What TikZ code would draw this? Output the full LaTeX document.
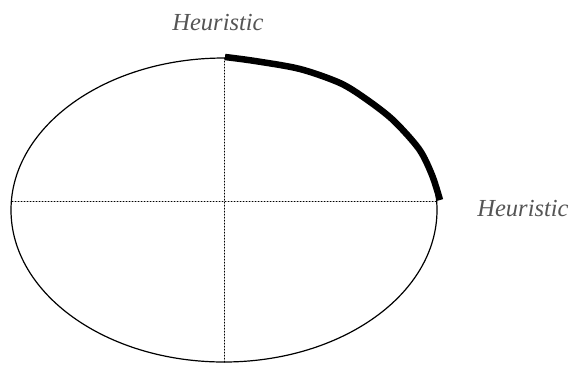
\documentclass[tikz,border=0pt]{standalone}
\usepackage{fontspec}
\setmainfont{Liberation Serif}
\usepackage{xcolor}
\usetikzlibrary{positioning,calc}
\definecolor{labelgray}{HTML}{555555}

\begin{document}
\begin{tikzpicture}[x=1pt,y=-1pt,
  axisline/.style={dotted,line width=1pt,line cap=round},
  heur/.style={font=\fontsize{24.5}{28}\selectfont\itshape,text=labelgray,inner sep=0pt}]
\useasboundingbox (0,0) rectangle (572,365);
\coordinate (c) at (224,210);
\draw[line width=1.2pt] (c) ellipse [x radius=213,y radius=152];
\draw[axisline] (224,58) -- (224,362);
\draw[axisline] (12,201) -- (437,201);
% thick stretch of the outline
\draw[line width=6.5pt,line join=round] plot[smooth,tension=0.5] coordinates
  {(225,57) (255,61) (300,69) (340,83) (366,99) (393,120) (419,149) (432,175) (440,200)};
\node[heur] (top) at (218,23) {Heuristic};
\node[heur] (side) at (523,209) {Heuristic};
\end{tikzpicture}
\end{document}
